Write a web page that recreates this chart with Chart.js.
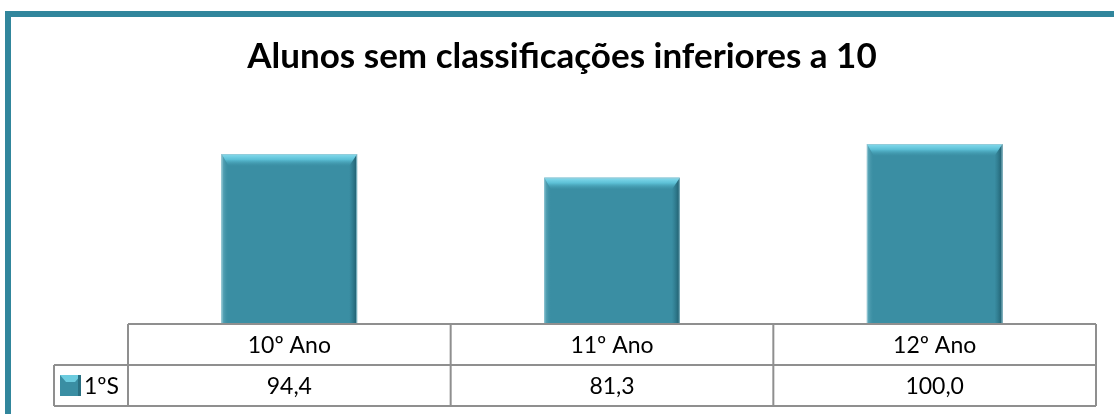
<!DOCTYPE html>
<html>
<head>
<meta charset="utf-8">
<script src="https://cdn.jsdelivr.net/npm/chart.js@4.4.1/dist/chart.umd.min.js"></script>
<style>
  html, body { margin: 0; padding: 0; background: #ffffff; overflow: hidden; }
  #frame {
    position: absolute; left: 5px; top: 11px; width: 1200px; height: 500px;
    border-top: 6px solid #31869c; border-left: 6px solid #31869c;
  }
  #wrap { position: absolute; left: 0; top: 0; width: 1114px; height: 414px; }
</style>
</head>
<body>
<div id="frame"></div>
<div id="wrap"><canvas id="chart" width="1114" height="414"></canvas></div>
<script>
// data
var categories = ['10º Ano', '11º Ano', '12º Ano'];
var seriesName = '1ºS';
var seriesValues = [94.4, 81.3, 100.0];
var chartTitle = 'Alunos sem classificações inferiores a 10';

var barColor = '#3a8ea3';
var gridColor = '#8f8f8f';

function formatValue(v) {
  return v.toFixed(1).replace('.', ',');
}

// title centred on the whole frame, not on the plot area
var titlePlugin = {
  id: 'frameTitle',
  afterDraw: function(chart) {
    var ctx = chart.ctx;
    ctx.save();
    ctx.fillStyle = '#000000';
    ctx.font = 'bold 35px Lato';
    ctx.textAlign = 'center';
    ctx.textBaseline = 'middle';
    ctx.fillText(chartTitle, 562, 57);
    ctx.restore();
  }
};

// bevelled look of the bars
var bevelPlugin = {
  id: 'bevel',
  afterDatasetsDraw: function(chart) {
    var ctx = chart.ctx;
    var meta = chart.getDatasetMeta(0);
    meta.data.forEach(function(bar) {
      var x0 = bar.x - bar.width / 2;
      var x1 = bar.x + bar.width / 2;
      var top = bar.y;
      var base = bar.base;
      var b = 12;
      ctx.save();
      // left light edge
      var gl = ctx.createLinearGradient(x0, 0, x0 + 7, 0);
      gl.addColorStop(0, 'rgba(110,180,196,0.9)');
      gl.addColorStop(1, 'rgba(58,142,163,0)');
      ctx.fillStyle = gl;
      ctx.beginPath();
      ctx.moveTo(x0, top); ctx.lineTo(x0 + 7, top + b); ctx.lineTo(x0 + 7, base); ctx.lineTo(x0, base);
      ctx.closePath(); ctx.fill();
      // right dark edge
      var gr = ctx.createLinearGradient(x1 - 8, 0, x1, 0);
      gr.addColorStop(0, 'rgba(40,110,128,0)');
      gr.addColorStop(1, 'rgba(30,90,106,1)');
      ctx.fillStyle = gr;
      ctx.beginPath();
      ctx.moveTo(x1, top); ctx.lineTo(x1, base); ctx.lineTo(x1 - 8, base); ctx.lineTo(x1 - 8, top + b);
      ctx.closePath(); ctx.fill();
      // top highlight
      var gt = ctx.createLinearGradient(0, top, 0, top + b);
      gt.addColorStop(0, '#86dcee');
      gt.addColorStop(0.45, '#5cc0d6');
      gt.addColorStop(1, 'rgba(58,142,163,0.3)');
      ctx.fillStyle = gt;
      ctx.beginPath();
      ctx.moveTo(x0, top); ctx.lineTo(x1, top); ctx.lineTo(x1 - 8, top + b); ctx.lineTo(x0 + 7, top + b);
      ctx.closePath(); ctx.fill();
      // thin outline
      ctx.strokeStyle = 'rgba(150,200,212,0.8)';
      ctx.lineWidth = 1;
      ctx.strokeRect(x0 + 0.5, top + 0.5, bar.width - 1, base - top - 1);
      ctx.restore();
    });
  }
};

// data table under the bars
var tablePlugin = {
  id: 'dataTable',
  afterDraw: function(chart) {
    var ctx = chart.ctx;
    var area = chart.chartArea;
    var xScale = chart.scales.x;
    var colW = (area.right - area.left) / categories.length;
    var rowH = 41;
    var y0 = area.bottom;
    var y1 = y0 + rowH;
    var y2 = y1 + rowH;
    var legendLeft = 54;

    ctx.save();
    ctx.strokeStyle = gridColor;
    ctx.lineWidth = 2;
    ctx.beginPath();
    ctx.moveTo(area.left, y0); ctx.lineTo(area.right, y0);
    ctx.moveTo(legendLeft, y1); ctx.lineTo(area.right, y1);
    ctx.moveTo(legendLeft, y2); ctx.lineTo(area.right, y2);
    ctx.moveTo(legendLeft, y1); ctx.lineTo(legendLeft, y2);
    for (var i = 0; i <= categories.length; i++) {
      var lx = area.left + i * colW;
      ctx.moveTo(lx, y0); ctx.lineTo(lx, y2);
    }
    ctx.stroke();

    ctx.fillStyle = '#000000';
    ctx.font = '23px Lato';
    ctx.textAlign = 'center';
    ctx.textBaseline = 'middle';
    categories.forEach(function(c, i) {
      var cx = xScale.getPixelForTick(i);
      ctx.fillText(c, cx, y0 + rowH / 2 + 1);
      ctx.fillText(formatValue(seriesValues[i]), cx, y1 + rowH / 2 + 1);
    });

    // legend key
    var kx = 60, ky = y1 + 10, ks = 21;
    ctx.fillStyle = barColor;
    ctx.fillRect(kx, ky, ks, ks);
    ctx.fillStyle = '#6cccdf';
    ctx.beginPath();
    ctx.moveTo(kx, ky); ctx.lineTo(kx + ks, ky); ctx.lineTo(kx + ks - 6, ky + 7); ctx.lineTo(kx + 6, ky + 7);
    ctx.closePath(); ctx.fill();
    ctx.fillStyle = '#2a7082';
    ctx.fillRect(kx + ks - 3, ky, 3, ks);
    ctx.fillStyle = '#000000';
    ctx.textAlign = 'left';
    ctx.fillText(seriesName, kx + ks + 3, y1 + rowH / 2 + 1);
    ctx.restore();
  }
};

var chart = new Chart(document.getElementById('chart'), {
  type: 'bar',
  data: {
    labels: categories,
    datasets: [{
      label: seriesName,
      data: seriesValues,
      backgroundColor: barColor,
      borderWidth: 0,
      categoryPercentage: 1,
      barPercentage: 0.42
    }]
  },
  options: {
    responsive: false,
    animation: false,
    layout: { padding: { left: 128, right: 18, top: 108, bottom: 90 } },
    plugins: {
      legend: { display: false },
      tooltip: { enabled: false },
      title: { display: false }
    },
    scales: {
      x: { display: false, offset: true, grid: { display: false } },
      y: { display: false, min: 0, max: 120 }
    }
  },
  plugins: [bevelPlugin, tablePlugin, titlePlugin]
});
</script>
</body>
</html>
